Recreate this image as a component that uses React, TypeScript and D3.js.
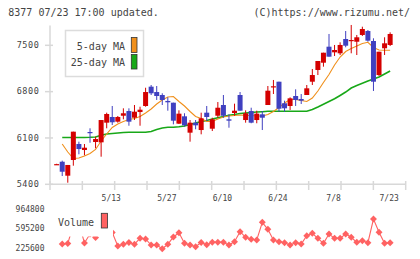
import React from 'react';
import * as d3 from 'd3';

// trading days shown (2024)
const dates = [
  '4/24', '4/25', '4/26', '4/30', '5/1', '5/2', '5/7', '5/8', '5/9', '5/10',
  '5/13', '5/14', '5/15', '5/16', '5/17', '5/20', '5/21', '5/22', '5/23', '5/24',
  '5/27', '5/28', '5/29', '5/30', '5/31', '6/3', '6/4', '6/5', '6/6', '6/7',
  '6/10', '6/11', '6/12', '6/13', '6/14', '6/17', '6/18', '6/19', '6/20', '6/21',
  '6/24', '6/25', '6/26', '6/27', '6/28', '7/1', '7/2', '7/3', '7/4', '7/5',
  '7/8', '7/9', '7/10', '7/11', '7/12', '7/16', '7/17', '7/18', '7/19', '7/22',
  '7/23',
];
const dateLabels = ['5/13', '5/27', '6/10', '6/24', '7/8', '7/23'];

const open = [
  5700, 5741, 5530, 5767, 6009, 5918, 6190, 6039, 6034, 6331,
  6417, 6346, 6436, 6507, 6406, 6492, 6583, 6875, 6794, 6749,
  6659, 6633, 6316, 6427, 6180, 6331, 6220, 6482, 6240, 6436,
  6598, 6382, 6477, 6749, 6371, 6507, 6371, 6457, 6598, 6865,
  6950, 6624, 6583, 6734, 6689, 6749, 6950, 7127, 7237, 7479,
  7394, 7379, 7595, 7565, 7554, 7656, 7716, 7565, 7051, 7455,
  7505,
];
const high = [
  5710, 5757, 5692, 6195, 6044, 6009, 6246, 6119, 6371, 6482,
  6583, 6432, 6548, 6548, 6598, 6572, 6859, 6900, 6885, 6775,
  6714, 6633, 6518, 6473, 6371, 6371, 6482, 6583, 6406, 6643,
  6749, 6457, 6618, 6794, 6518, 6557, 6512, 6507, 6885, 6976,
  6950, 6663, 6714, 6835, 6764, 6900, 7142, 7263, 7388, 7671,
  7505, 7545, 7716, 7807, 7656, 7781, 7731, 7606, 7403, 7621,
  7696,
];
const low = [
  5695, 5525, 5424, 5681, 5853, 5838, 6028, 5944, 5817, 6246,
  6296, 6331, 6382, 6285, 6371, 6285, 6572, 6749, 6674, 6598,
  6512, 6306, 6311, 6270, 6044, 6231, 6155, 6356, 6205, 6406,
  6406, 6255, 6436, 6512, 6331, 6322, 6322, 6220, 6598, 6764,
  6497, 6497, 6523, 6583, 6613, 6749, 6900, 7051, 7177, 7328,
  7338, 7353, 7470, 7379, 7353, 7641, 7554, 6810, 7036, 7353,
  7489,
];
const close = [
  5705, 5590, 5692, 6195, 5933, 5953, 6180, 6084, 6371, 6462,
  6337, 6417, 6473, 6346, 6497, 6527, 6794, 6775, 6734, 6674,
  6639, 6361, 6467, 6291, 6331, 6291, 6397, 6417, 6382, 6557,
  6436, 6361, 6512, 6512, 6473, 6331, 6467, 6406, 6814, 6881,
  6542, 6548, 6699, 6674, 6663, 6850, 7051, 7263, 7388, 7328,
  7429, 7505, 7494, 7580, 7621, 7746, 7570, 6950, 7403, 7530,
  7671,
];
const ma5 = [
  null, 6009, 5888, 5790, 5797, 5828, 5865, 5926, 6054, 6160,
  6258, 6311, 6349, 6379, 6394, 6424, 6477, 6538, 6613, 6674,
  6719, 6726, 6651, 6583, 6500, 6424, 6394, 6349, 6349, 6387,
  6417, 6432, 6439, 6447, 6442, 6439, 6432, 6432, 6455, 6500,
  6560, 6628, 6681, 6681, 6666, 6651, 6704, 6810, 6938, 7059,
  7202, 7323, 7406, 7452, 7489, 7527, 7545, 7467, 7429, 7425,
  7425,
];
const ma25 = [
  null, 6107, 6107, 6107, 6107, 6107, 6110, 6115, 6140, 6160,
  6167, 6175, 6183, 6186, 6186, 6186, 6186, 6198, 6228, 6251,
  6261, 6261, 6269, 6281, 6303, 6326, 6349, 6364, 6387, 6405,
  6424, 6442, 6455, 6470, 6477, 6485, 6492, 6497, 6503, 6503,
  6503, 6503, 6503, 6503, 6503, 6503, 6530, 6568, 6609, 6651,
  6692, 6742, 6794, 6855, 6893, 6926, 6961, 6991, 7021, 7066,
  7112,
];
const volume = [
  null, 305000, 315000, 665000, 703000, 324000, 495000, 428000, 836000, 722000,
  523000, 267000, 301000, 334000, 301000, 413000, 400000, 286000, 286000, 216000,
  300000, 438000, 519000, 318000, 286000, 254000, 334000, 292000, 337000, 337000,
  337000, 286000, 349000, 538000, 432000, 394000, 381000, 716000, 584000, 381000,
  349000, 330000, 286000, 330000, 305000, 462000, 508000, 413000, 318000, 495000,
  413000, 413000, 495000, 432000, 337000, 368000, 330000, 779000, 527000, 318000,
  330000,
];
const priceTicks = [5400, 6100, 6800, 7500];
const volumeTicks = [225600, 595200, 964800];

const MONO = '"DejaVu Sans Mono", "Liberation Mono", monospace';
const UP = '#d40000';
const DOWN = '#4040c0';
const AXIS = '#d8d8d8';
const VOL = '#ff6262';

export default function App() {
  const x = d3.scaleLinear().domain([-1.2, 62.8]).range([50, 405.7]);
  const y = d3.scaleLinear().domain([5400, 7500]).range([184.3, 45.3]);
  const yv = d3.scaleLinear().domain([225600, 964800]).range([248.2, 209.2]);
  const bw = (x(1) - x(0)) * 0.9;
  const gridTicks = d3.range(12).map((k) => -1.2 + (k * 64) / 11);

  const maLine = d3
    .line<number | null>()
    .defined((d) => d != null)
    .x((_, i) => x(i))
    .y((d) => y(d as number));
  const volLine = d3
    .line<number | null>()
    .defined((d) => d != null)
    .x((_, i) => x(i))
    .y((d) => yv(d as number));
  const diamond = d3.symbol(d3.symbolSquare, 24)();

  return (
    <svg
      width={420}
      height={259}
      style={{ position: 'absolute', left: 0, top: 0, background: '#fff' }}
      fontFamily={MONO}
    >
      <text x={8.3} y={16} fontSize={10} fill="#444">8377 07/23 17:00 updated.</text>
      <text x={410} y={16} fontSize={10} fill="#444" textAnchor="end">(C)https://www.rizumu.net/</text>

      {/* axes */}
      <line x1={x(-1.2)} x2={x(-1.2)} y1={y(7800)} y2={y(5400)} stroke={AXIS} strokeWidth={1.5} />
      <line x1={x(-1.2)} x2={x(62.8)} y1={y(5400)} y2={y(5400)} stroke={AXIS} strokeWidth={1.5} />
      {gridTicks.map((t, k) => (
        <line key={k} x1={x(t)} x2={x(t)} y1={181} y2={190} stroke={AXIS} strokeWidth={1.5} />
      ))}
      {priceTicks.map((t) => (
        <g key={t}>
          <line x1={45} x2={53} y1={y(t)} y2={y(t)} stroke={AXIS} strokeWidth={1.5} />
          <text x={39.5} y={y(t)} dy="0.33em" fontSize={8.5} letterSpacing={0.6} textAnchor="end" fill="#444">
            {t}
          </text>
        </g>
      ))}
      {dateLabels.map((d) => (
        <text key={d} x={x(dates.indexOf(d)) - 1} y={200.5} fontSize={8} textAnchor="middle" fill="#444">
          {d}
        </text>
      ))}

      {/* moving averages */}
      <path d={maLine(ma25) || ''} fill="none" stroke="#18a818" strokeWidth={1.6} />
      <path d={maLine(ma5) || ''} fill="none" stroke="#f0901c" strokeWidth={1.1} />

      {/* candles */}
      {dates.map((d, i) => {
        const up = close[i] >= open[i];
        const c = up ? UP : DOWN;
        const top = y(Math.max(open[i], close[i]));
        const bot = y(Math.min(open[i], close[i]));
        return (
          <g key={d}>
            <line x1={x(i)} x2={x(i)} y1={y(high[i])} y2={y(low[i])} stroke={c} strokeWidth={1} />
            <rect x={x(i) - bw / 2} y={top} width={bw} height={Math.max(1.2, bot - top)} fill={c} />
          </g>
        );
      })}

      {/* legend */}
      <rect x={65.5} y={30.5} width={78} height={46} fill="#fff" stroke="#dcdcdc" strokeWidth={1.5} />
      <text x={125} y={49.5} fontSize={10} textAnchor="end" fill="#444">5-day MA</text>
      <text x={125} y={66} fontSize={10} textAnchor="end" fill="#444">25-day MA</text>
      <rect x={131.3} y={37.5} width={5.7} height={15} fill="#f0901c" stroke="#333" strokeWidth={0.8} />
      <rect x={131.3} y={54.5} width={5.7} height={14.5} fill="#18a818" stroke="#333" strokeWidth={0.8} />

      {/* volume */}
      {volumeTicks.map((t) => (
        <text key={t} x={44.5} y={yv(t)} dy="0.33em" fontSize={8} textAnchor="end" fill="#444">
          {t}
        </text>
      ))}
      <path d={volLine(volume) || ''} fill="none" stroke={VOL} strokeWidth={1.1} />
      {volume.map((v, i) =>
        v == null ? null : (
          <path key={i} d={diamond || ''} transform={`translate(${x(i)},${yv(v)}) rotate(45)`} fill={VOL} />
        ),
      )}
      <rect x={55} y={203} width={58} height={33.5} fill="#fff" />
      <text x={58} y={226} fontSize={10} fill="#444">Volume</text>
      <rect x={101.3} y={213.3} width={6.2} height={14.7} fill={VOL} stroke="#333" strokeWidth={0.8} />
    </svg>
  );
}
